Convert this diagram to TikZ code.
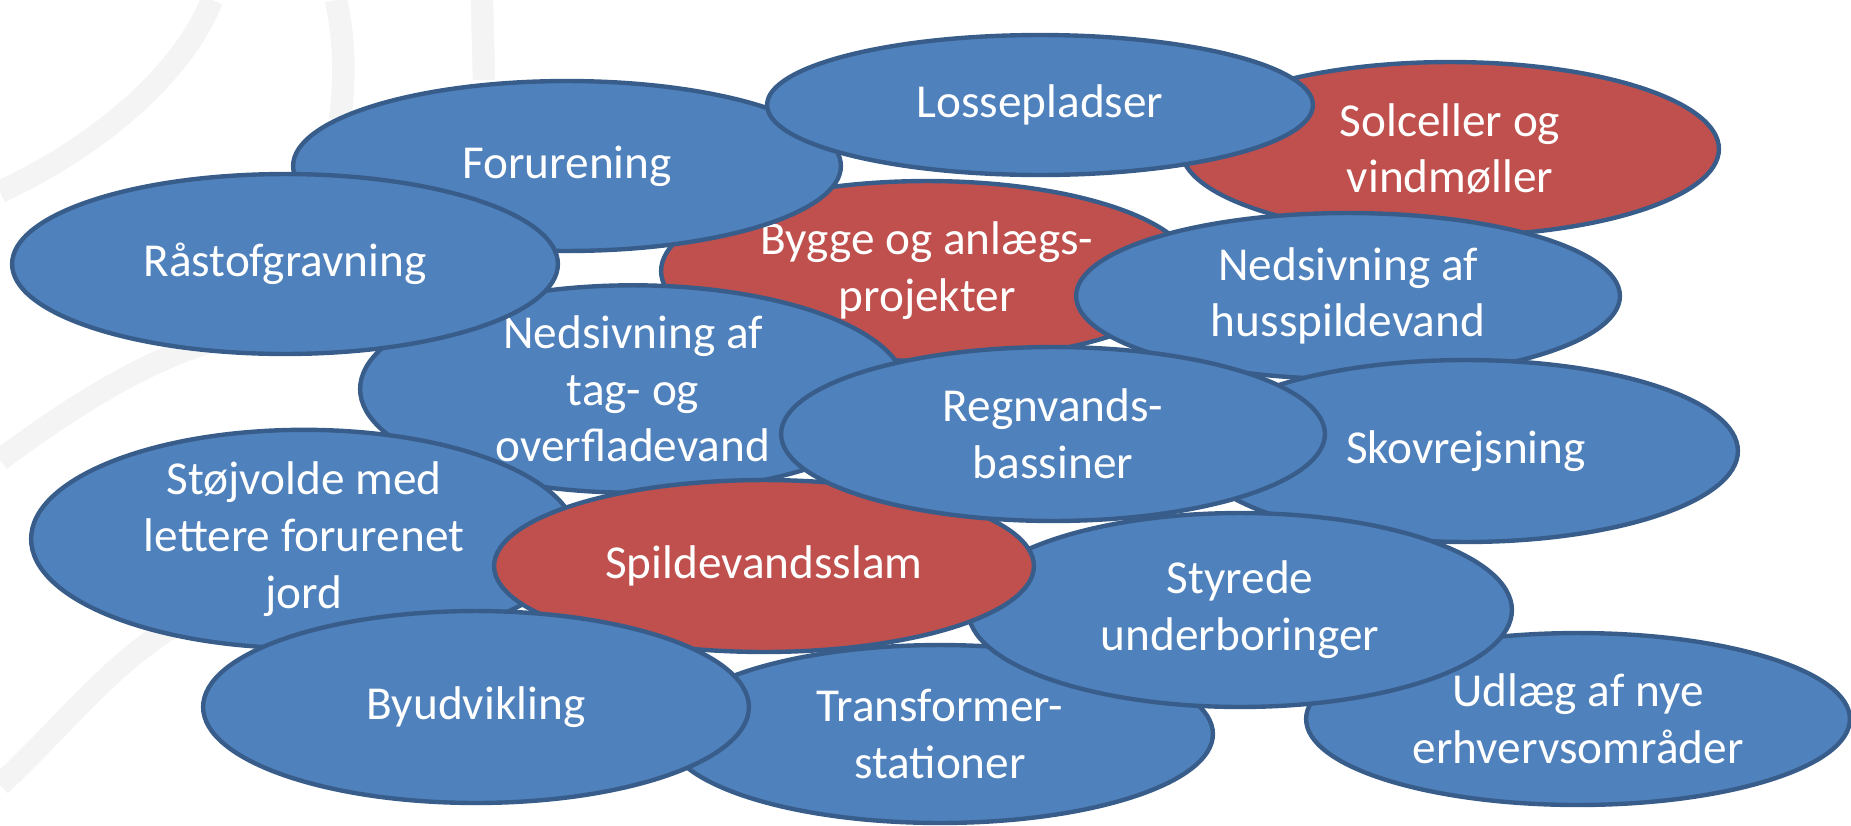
\documentclass[tikz,border=0pt]{standalone}
\usepackage{fontspec}
\setmainfont{Carlito}
\usetikzlibrary{shapes.geometric}
\definecolor{blob}{HTML}{4F81BD}
\definecolor{hot}{HTML}{C0504D}
\definecolor{rim}{HTML}{385D8A}
\definecolor{wmark}{HTML}{F4F4F4}

\begin{document}
\begin{tikzpicture}[x=0.02cm,y=-0.02cm,
  every node/.style={ellipse, draw=rim, line width=2.5pt, fill=blob, text=white, align=center, inner sep=0pt,
    font=\fontsize{26.9}{32.3}\selectfont},
  sz/.style 2 args={minimum width=#1*0.04cm, minimum height=#2*0.04cm},
  hotspot/.style={fill=hot}]
\useasboundingbox (0,0) rectangle (1851,825);

% faint background swirls
\draw[wmark, line width=0.45cm] (0,192) .. controls (90,150) and (180,80) .. (212,0);
\draw[wmark, line width=0.45cm] (336,0) .. controls (345,40) and (345,80) .. (340,120);
\draw[wmark, line width=0.45cm] (482,0) -- (484,80);
\draw[wmark, line width=0.45cm] (0,460) .. controls (80,400) and (150,360) .. (210,342);
\draw[wmark, line width=0.45cm] (0,785) .. controls (70,720) and (120,650) .. (200,612);

\coordinate (S) at (1450,149);   % solceller
\coordinate (B) at (927,271);    % bygge
\coordinate (F) at (567,166);    % forurening
\coordinate (L) at (1040,105);   % lossepladser
\coordinate (H) at (1348,296);   % husspildevand
\coordinate (T) at (633,389);    % tag- og overfladevand
\coordinate (R) at (285,264);    % raastof
\coordinate (K) at (1466,451);   % skov
\coordinate (X) at (940,734);    % transformer
\coordinate (U) at (1578,719);   % udlaeg
\coordinate (D) at (1240,610);   % underboringer
\coordinate (J) at (304,539);    % stoejvolde
\coordinate (P) at (764,566);    % spildevandsslam
\coordinate (G) at (1053,434);   % regnvand
\coordinate (Y) at (476,707);    % byudvikling

\node[hotspot, sz={269}{87}] (solc) at (S) {Solceller og\\vindmøller};
\node[hotspot, sz={266}{90}] (bygge) at (B) {Bygge og anlægs-\\projekter};
\node[sz={274}{85}] (forur) at (F) {Forurening};
\node[sz={273}{70}] (losse) at (L) {Lossepladser};
\node[sz={272}{83}] (hus) at (H) {Nedsivning af\\husspildevand};
\node[sz={273}{87}] (tag) at (T) {Nedsivning af\\tag- og\\overfladevand};
\node[sz={273}{90}] (raa) at (R) {Råstofgravning};
\node[sz={272}{91}] (skov) at (K) {Skovrejsning};
\node[sz={273}{89}] (trafo) at (X) {Transformer-\\stationer};
\node[sz={272}{86}] (udl) at (U) {Udlæg af nye\\erhvervsområder};
\node[sz={272}{97}] (styr) at (D) {Styrede\\underboringer};
\node[sz={273}{88}] (stoej) at (J) {Støjvolde med\\lettere forurenet\\jord};
\node[hotspot, sz={270}{86}] (slam) at (P) {Spildevandsslam};
\node[sz={272}{87}] (regn) at (G) {Regnvands-\\bassiner};
\node[sz={273}{96}] (by) at (Y) {Byudvikling};
\end{tikzpicture}
\end{document}
